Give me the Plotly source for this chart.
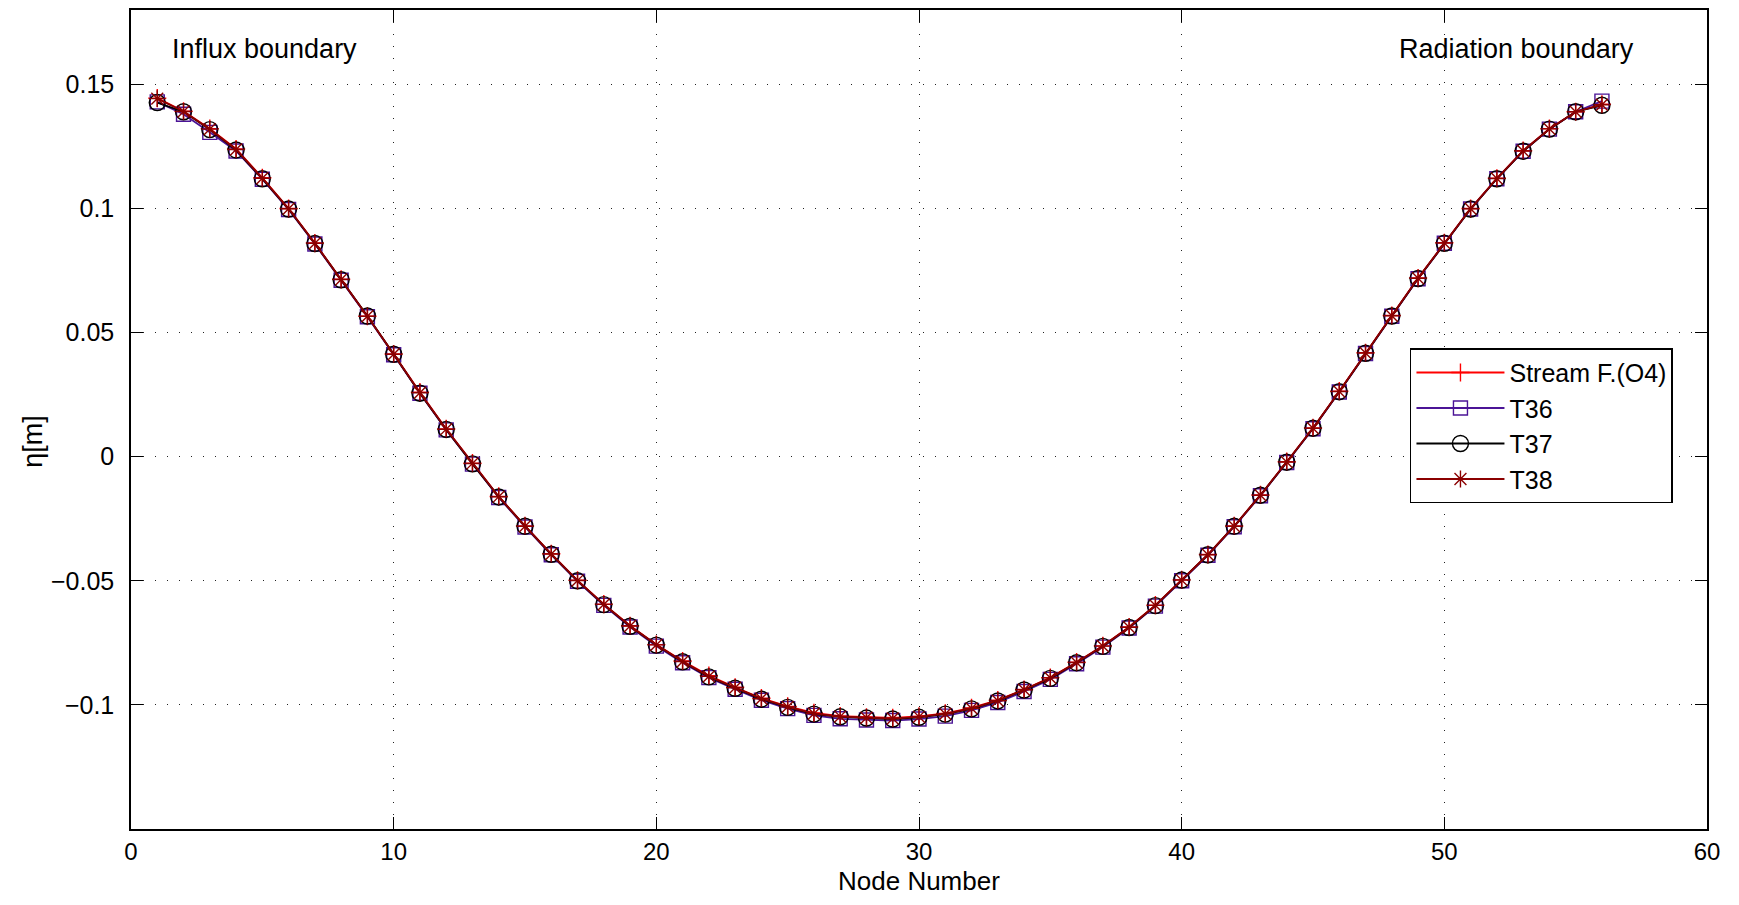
import plotly.graph_objects as go

nodes = list(range(1, 57))

stream_f = [0.1445, 0.1392, 0.1322, 0.1240, 0.1124, 0.1000, 0.0861, 0.0715, 0.0566, 0.0414,
            0.0260, 0.0112, -0.0026, -0.0160, -0.0279, -0.0391, -0.0498, -0.0594, -0.0681, -0.0757,
            -0.0823, -0.0882, -0.0929, -0.0973, -0.1006, -0.1032, -0.1045, -0.1050, -0.1052, -0.1046,
            -0.1034, -0.1012, -0.0981, -0.0938, -0.0890, -0.0828, -0.0762, -0.0686, -0.0598, -0.0496,
            -0.0394, -0.0279, -0.0154, -0.0020, 0.0116, 0.0264, 0.0419, 0.0569, 0.0720, 0.0862,
            0.1000, 0.1122, 0.1233, 0.1322, 0.1390, 0.1420]

t36 = [0.1430, 0.1380, 0.1307, 0.1232, 0.1118, 0.0996, 0.0857, 0.0711, 0.0564, 0.0411,
       0.0256, 0.0108, -0.0030, -0.0164, -0.0283, -0.0395, -0.0502, -0.0599, -0.0686, -0.0763,
       -0.0830, -0.0890, -0.0937, -0.0981, -0.1015, -0.1042, -0.1056, -0.1061, -0.1063, -0.1057,
       -0.1045, -0.1022, -0.0990, -0.0946, -0.0897, -0.0834, -0.0767, -0.0690, -0.0602, -0.0500,
       -0.0397, -0.0282, -0.0157, -0.0023, 0.0113, 0.0261, 0.0416, 0.0566, 0.0717, 0.0860,
       0.0998, 0.1120, 0.1231, 0.1320, 0.1390, 0.1433]

t37 = [0.1427, 0.1390, 0.1318, 0.1236, 0.1120, 0.0998, 0.0859, 0.0713, 0.0567, 0.0413,
       0.0256, 0.0110, -0.0029, -0.0162, -0.0280, -0.0393, -0.0500, -0.0596, -0.0683, -0.0759,
       -0.0826, -0.0887, -0.0933, -0.0977, -0.1010, -0.1037, -0.1048, -0.1053, -0.1057, -0.1050,
       -0.1037, -0.1016, -0.0984, -0.0940, -0.0893, -0.0830, -0.0764, -0.0688, -0.0600, -0.0497,
       -0.0395, -0.0280, -0.0155, -0.0022, 0.0115, 0.0262, 0.0417, 0.0567, 0.0718, 0.0860,
       0.0998, 0.1120, 0.1231, 0.1320, 0.1390, 0.1416]

t38 = [0.1443, 0.1391, 0.1320, 0.1238, 0.1122, 0.0999, 0.0860, 0.0714, 0.0566, 0.0413,
       0.0258, 0.0111, -0.0027, -0.0161, -0.0280, -0.0392, -0.0499, -0.0595, -0.0682, -0.0758,
       -0.0825, -0.0885, -0.0931, -0.0975, -0.1008, -0.1035, -0.1047, -0.1052, -0.1055, -0.1048,
       -0.1036, -0.1014, -0.0983, -0.0939, -0.0891, -0.0829, -0.0763, -0.0687, -0.0599, -0.0497,
       -0.0395, -0.0280, -0.0155, -0.0021, 0.0115, 0.0263, 0.0418, 0.0568, 0.0719, 0.0861,
       0.0999, 0.1121, 0.1232, 0.1321, 0.1390, 0.1418]

series_names = ["Stream F.(O4)", "T36", "T37", "T38"]
series_colors = ["#ff0000", "#4b1496", "#000000", "#8b0000"]
series_symbols = ["cross-thin-open", "square-open", "circle-open", "asterisk-open"]
series_sizes = [13, 14, 16, 14]

x_ticks = [0, 10, 20, 30, 40, 50, 60]
y_ticks = [-0.1, -0.05, 0, 0.05, 0.1, 0.15]
y_tick_text = ["\u22120.1", "\u22120.05", "0", "0.05", "0.1", "0.15"]

FONT = "Liberation Sans, Arial, Helvetica, sans-serif"

fig = go.Figure()
for name, ys, col, sym, sz in zip(series_names, [stream_f, t36, t37, t38],
                                  series_colors, series_symbols, series_sizes):
    fig.add_trace(go.Scatter(
        x=nodes, y=ys, name=name, mode="lines+markers",
        line=dict(color=col, width=1.8),
        marker=dict(symbol=sym, size=sz, color=col, line=dict(color=col, width=1.4)),
    ))

axis_common = dict(
    showline=True, linecolor="black", linewidth=1.5, mirror="ticks",
    ticks="inside", ticklen=12, tickwidth=1.3, tickcolor="black",
    showgrid=True, gridcolor="#222222", gridwidth=1, griddash="1px,11px",
    zeroline=False,
)

fig.update_xaxes(range=[0, 60], tickvals=x_ticks, ticklabelstandoff=0,
                 tickfont=dict(family=FONT, size=24, color="black"), **axis_common)
fig.update_yaxes(range=[-0.15, 0.18], tickvals=y_ticks, ticktext=y_tick_text,
                 ticklabelstandoff=10,
                 tickfont=dict(family=FONT, size=25, color="black"), **axis_common)

fig.add_annotation(x=1.5, y=0.1643, xref="x", yref="y", text="Influx boundary",
                   showarrow=False, xanchor="left", yanchor="middle",
                   font=dict(family=FONT, size=27, color="black"))
fig.add_annotation(x=48.2, y=0.1643, xref="x", yref="y", text="Radiation boundary",
                   showarrow=False, xanchor="left", yanchor="middle",
                   font=dict(family=FONT, size=27, color="black"))

# plot area: fig y 0..821 (height 821)
fig.add_annotation(x=0.5, y=-52 / 821, xref="paper", yref="paper", text="Node Number",
                   showarrow=False, xanchor="center", yanchor="middle", borderpad=0,
                   font=dict(family=FONT, size=26, color="black"))
fig.add_annotation(x=-0.0622, y=0.474, xref="paper", yref="paper", text="\u03b7[m]",
                   showarrow=False, xanchor="center", yanchor="middle", textangle=-90,
                   font=dict(family=FONT, size=27, color="black"))

fig.update_layout(
    width=1723, height=889,
    margin=dict(l=123, r=24, t=0, b=68),
    paper_bgcolor="white", plot_bgcolor="white",
    showlegend=True,
    legend=dict(x=0.9784, y=0.587, xanchor="right", yanchor="top",
                bgcolor="white", bordercolor="black", borderwidth=1.5,
                font=dict(family=FONT, size=25, color="black"),
                itemwidth=88, tracegroupgap=0),
)

fig.write_html("out.html")
